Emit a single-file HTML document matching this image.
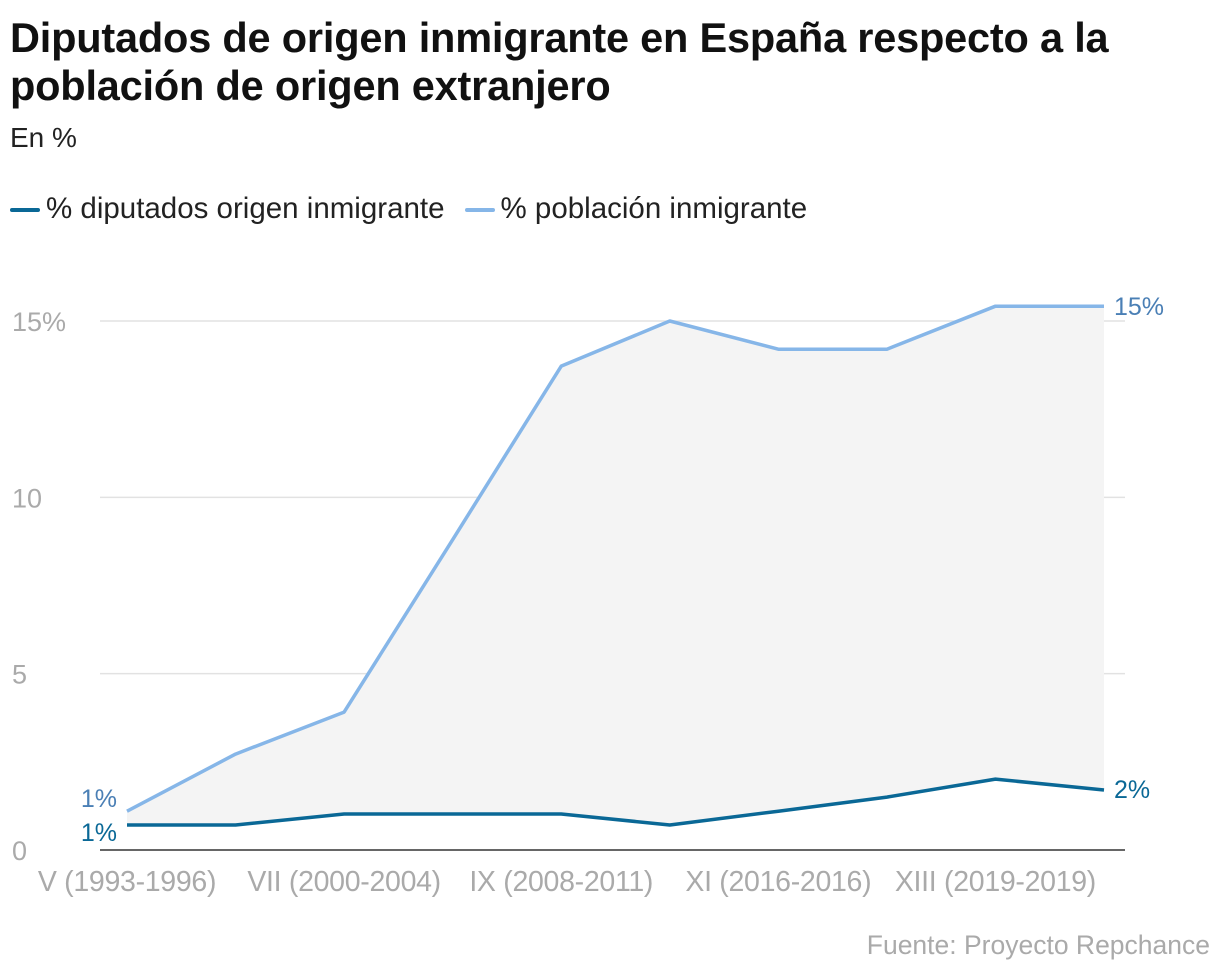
<!DOCTYPE html>
<html><head><meta charset="utf-8"><style>
body{margin:0;background:#fff;width:1220px;height:976px;overflow:hidden;font-family:"Liberation Sans",sans-serif}
h1{position:absolute;left:10px;top:14px;margin:0;font-size:41.5px;line-height:48px;font-weight:bold;color:#111;letter-spacing:-0.2px}
.sub{position:absolute;left:10px;top:122px;font-size:28px;color:#222}
.legend{position:absolute;left:10px;top:192px;font-size:29.5px;color:#222;display:flex;gap:20px;align-items:center}
.legend span.sw{display:inline-block;width:30px;height:4px;border-radius:2px;margin-right:6px;vertical-align:middle}
.src{position:absolute;right:10px;top:930px;font-size:26.5px;color:#aaa}
</style></head><body>
<h1>Diputados de origen inmigrante en España respecto a la<br>población de origen extranjero</h1>
<div class="sub">En %</div>
<div class="legend">
<div><span class="sw" style="background:#0a6896"></span>% diputados origen inmigrante</div>
<div><span class="sw" style="background:#86b6e8"></span>% población inmigrante</div>
</div>
<svg id="chart" width="1220" height="976" style="position:absolute;left:0;top:0"></svg>
<div class="src">Fuente: Proyecto Repchance</div>
<script>
const categories=["V (1993-1996)","VI (1996-2000)","VII (2000-2004)","VIII (2004-2008)","IX (2008-2011)","X (2011-2015)","XI (2016-2016)","XII (2016-2019)","XIII (2019-2019)","XIV (2019-2023)"];
const poblacion=[1.1,2.72,3.91,8.8,13.72,15.0,14.2,14.2,15.42,15.42];
const diputados=[0.71,0.71,1.02,1.02,1.02,0.71,1.1,1.5,2.01,1.7];
const yTicks=[0,5,10,15];
const yTickLabels=["0","5","10","15%"];
const svg=document.getElementById('chart');
const NS="http://www.w3.org/2000/svg";
const x=i=>127+i*(1104-127)/(categories.length-1);
const y=v=>850-v*(850-321)/15;
function el(t,a,p){const e=document.createElementNS(NS,t);for(const k in a)e.setAttribute(k,a[k]);(p||svg).appendChild(e);return e;}
yTicks.forEach((t,i)=>{
 if(t>0){const g=el('line',{x1:100,x2:1125,y1:y(t),y2:y(t),stroke:'#e2e2e2','stroke-width':1.5});
 
 }
 const tx=el('text',{x:12,y:y(t)+10,'font-size':27,fill:'#aaa','font-family':'Liberation Sans, sans-serif'});
 tx.textContent=yTickLabels[i];
 
 
});
let d='';poblacion.forEach((v,i)=>d+=(i?'L':'M')+x(i)+','+y(v));
for(let i=diputados.length-1;i>=0;i--)d+='L'+x(i)+','+y(diputados[i]);
const area=el('path',{d:d+'Z',fill:'#f4f4f4'});


const base=el('line',{x1:100,x2:1125,y1:850,y2:850,stroke:'#333','stroke-width':1.5});


function line(arr,col,name){const p=el('polyline',{points:arr.map((v,i)=>x(i)+','+y(v)).join(' '),fill:'none',stroke:col,'stroke-width':3.5,'stroke-linejoin':'round'});

}
line(poblacion,'#86b6e8','line-poblacion');
line(diputados,'#0a6896','line-diputados');
categories.forEach((c,i)=>{if(i%2)return;
 const t=el('text',{x:x(i),y:891,'text-anchor':'middle','font-size':28.5,fill:'#aaa','font-family':'Liberation Sans, sans-serif','letter-spacing':'-0.3'});
 t.textContent=c;
 
 });
function lab(txt,xx,yy,col,anc,name){const t=el('text',{x:xx,y:yy,'text-anchor':anc,'font-size':25,fill:col,'font-family':'Liberation Sans, sans-serif'});t.textContent=txt;

}
const n=categories.length-1;
lab(Math.round(poblacion[0])+'%',117,y(poblacion[0])-4,'#4a7fb5','end','label-poblacion-start');
lab(Math.round(diputados[0])+'%',117,y(diputados[0])+16,'#0a6896','end','label-diputados-start');
lab(Math.round(poblacion[n])+'%',1114,y(poblacion[n])+9,'#4a7fb5','start','label-poblacion-end');
lab(Math.round(diputados[n])+'%',1114,y(diputados[n])+8,'#0a6896','start','label-diputados-end');
</script>
</body></html>
